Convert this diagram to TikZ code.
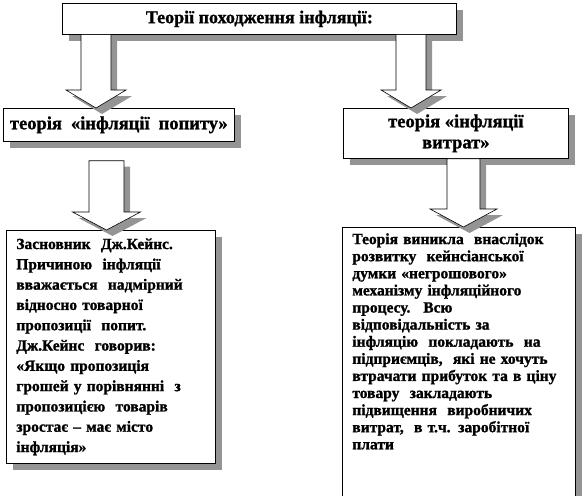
\documentclass[tikz,border=0pt]{standalone}
\usepackage{fontspec}
\setmainfont{Liberation Serif}[BoldFeatures={FakeBold=1.2}]
\usetikzlibrary{positioning, calc, shadows}

\tikzset{
  frame/.style={draw, fill=white, line width=0.7pt, inner sep=0pt,
    drop shadow={shadow xshift=7pt, shadow yshift=-7pt,
                 fill=black!42, opacity=1}},
  headbox/.style={frame, anchor=north west, align=center,
    font=\fontsize{18.5}{21}\selectfont\bfseries},
  textbox/.style={frame, anchor=north west, align=left,
    font=\fontsize{15.5}{20.3}\selectfont\bfseries},
  arrowbody/.style={draw, fill=white, line width=0.6pt,
    drop shadow={shadow xshift=6pt, shadow yshift=-6pt,
                 fill=black!42, opacity=1}}
}

% block arrow: start, tip, shaft half width, head half width
\newcommand{\blockarrow}[4]{%
  \draw[arrowbody] ($(#1)+(-#3,0)$) -- ($(#2)+(-#3,-18)$)
    -- ($(#2)+(-#4,-18)$) -- (#2) -- ($(#2)+(#4,-18)$)
    -- ($(#2)+(#3,-18)$) -- ($(#1)+(#3,0)$) -- cycle;}

\begin{document}
\begin{tikzpicture}[x=1pt, y=-1pt]
  \useasboundingbox (0,0) rectangle (585,495);

  \node[headbox, minimum width=394, minimum height=31,
        font=\fontsize{18}{21}\selectfont\bfseries] (title) at (62,3)
    {Теорії походження інфляції:};

  \node[headbox, minimum width=231, minimum height=33] (demand) at (3,108)
    {теорія\hspace{9pt}«інфляції\hspace{9pt}попиту»};
  \node[headbox, minimum width=225, minimum height=50] (cost) at (343,108)
    {теорія «інфляції\\витрат»};

  \node[textbox, text width=189, inner xsep=10, inner ysep=7,
        minimum height=233] (demandtxt) at (6,230)
    {Засновник \ Дж.Кейнс.\\
     Причиною \ інфляції\\
     вважається \ надмірний\\
     відносно товарної\\
     пропозиції \ попит.\\
     Дж.Кейнс \ говорив:\\
     «Якщо пропозиція\\
     грошей у порівнянні \ з\\
     пропозицією \ товарів\\
     зростає – має місто\\
     інфляція»};

  \node[textbox, text width=213, inner xsep=10, inner ysep=6,
        font=\fontsize{15.5}{17.1}\selectfont\bfseries,
        text depth=300] (costtxt) at (342,227)
    {Теорія виникла \ внаслідок\\
     розвитку \ кейнсіанської\\
     думки «негрошового»\\
     механізму інфляційного\\
     процесу. \ Всю\\
     відповідальність за\\
     інфляцію \ покладають \ на\\
     підприємців, \ які не хочуть\\
     втрачати прибуток та в ціну\\
     товару \ закладають\\
     підвищення \ виробничих\\
     витрат, \ в т.ч. заробітної\\
     плати};

  % connectors
  \coordinate (s1) at ($(title.south west)+(34,0)$);
  \coordinate (t1) at (s1 |- demand.north);
  \coordinate (s2) at ($(title.south west)+(349,0)$);
  \coordinate (t2) at (s2 |- cost.north);
  \coordinate (s3) at ($(demand.south west)+(103.5,19)$);
  \coordinate (t3) at (s3 |- demandtxt.north);
  \coordinate (s4) at ($(cost.south west)+(120.5,0)$);
  \coordinate (t4) at (s4 |- costtxt.north);

  \blockarrow{s1}{t1}{15}{30}
  \blockarrow{s2}{t2}{15}{30}
  \blockarrow{s3}{t3}{17.5}{34}
  \blockarrow{s4}{t4}{16.5}{33.5}
\end{tikzpicture}
\end{document}
